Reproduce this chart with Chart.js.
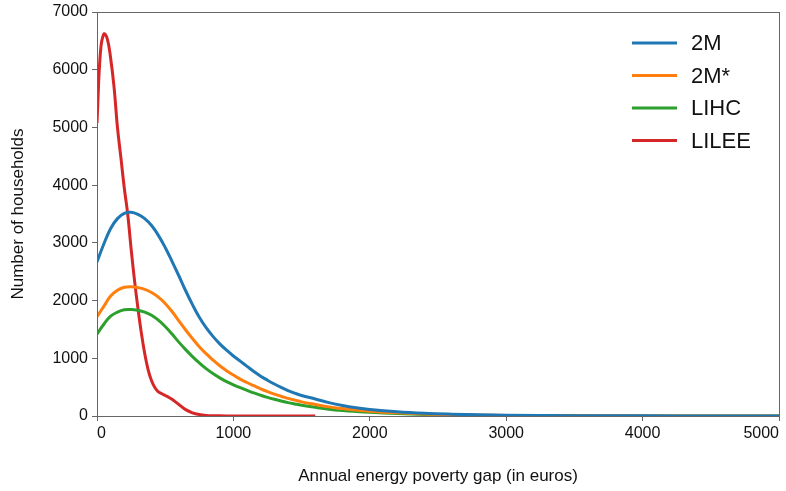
<!DOCTYPE html>
<html>
<head>
<meta charset="utf-8">
<script src="https://cdn.jsdelivr.net/npm/chart.js@4.4.1/dist/chart.umd.min.js"></script>
<style>
  html, body { margin: 0; padding: 0; background: #fff; }
  #wrap { width: 786px; height: 491px; }
</style>
</head>
<body>
<div id="wrap"><canvas id="gapChart" width="786" height="491"></canvas></div>
<script>
// x positions (euros) for the 2M, 2M*, LIHC curves
var gapEuros = [0, 50, 100, 150, 200, 250, 300, 350, 400, 450, 500, 550, 600, 650, 700, 750, 800, 850, 900, 950,
  1000, 1050, 1100, 1150, 1200, 1250, 1300, 1350, 1400, 1450, 1500,
  1600, 1700, 1800, 1900, 2000, 2200, 2400, 2600, 2800, 3000, 3500, 4000, 4500, 5000];
var twoM = [2670, 2980, 3250, 3420, 3510, 3530, 3495, 3420, 3300, 3130, 2920, 2680, 2430, 2170, 1930, 1710, 1530, 1380, 1250, 1140,
  1040, 950, 860, 770, 690, 620, 555, 495, 440, 395, 355,
  295, 232, 182, 143, 113, 73, 47, 31, 20, 13, 6, 3, 1, 0];
var twoMStar = [1720, 1900, 2080, 2180, 2230, 2240, 2225, 2195, 2140, 2060, 1950, 1810, 1650, 1490, 1340, 1200, 1080, 970, 870, 785,
  710, 640, 580, 525, 470, 422, 380, 343, 305, 275, 245,
  200, 158, 128, 104, 84, 55, 35, 22, 14, 9, 4, 2, 1, 0];
var lihc = [1420, 1590, 1730, 1800, 1840, 1845, 1830, 1800, 1745, 1660, 1550, 1420, 1280, 1150, 1030, 920, 820, 735, 660, 595,
  540, 490, 445, 400, 360, 323, 290, 260, 232, 208, 186,
  150, 118, 95, 78, 64, 42, 27, 17, 10, 6, 3, 1, 0, 0];

// LILEE curve has its own, finer x positions and stops at 1600
var lileeEuros = [0, 25, 50, 75, 100, 125, 150, 175, 200, 225, 250, 275, 300, 325, 350, 375, 400, 425, 450,
  475, 500, 525, 550, 575, 600, 650, 700, 750, 800, 850, 900, 1000, 1100, 1200, 1300, 1400, 1500, 1600];
var lilee = [5080, 6300, 6620, 6540, 6200, 5700, 5000, 4480, 3950, 3500, 2900, 2350, 1870, 1440, 1080, 800, 610, 490, 420,
  385, 355, 325, 290, 245, 200, 110, 55, 25, 10, 5, 3, 1, 0, 0, 0, 0, 0, 0];

var xTicks = [0, 1000, 2000, 3000, 4000, 5000];
var yTicks = [0, 1000, 2000, 3000, 4000, 5000, 6000, 7000];

function pts(xs, ys) {
  return xs.map(function (x, i) { return { x: x, y: ys[i] }; });
}

var axisColor = '#666';
var font = "'Liberation Sans', Arial, Helvetica, sans-serif";

function mkSet(label, data, color) {
  return {
    label: label,
    data: data,
    borderColor: color,
    backgroundColor: color,
    borderWidth: 3,
    pointRadius: 0,
    fill: false,
    tension: 0.4
  };
}

// legend drawn inside the plot, top right
var insideLegend = {
  id: 'insideLegend',
  afterDraw: function (chart) {
    var c = chart.ctx;
    var a = chart.chartArea;
    c.save();
    c.font = "22px " + font;
    c.textBaseline = 'middle';
    chart.data.datasets.forEach(function (ds, i) {
      var y = a.top + 31 + i * 32.5;
      c.strokeStyle = ds.borderColor;
      c.lineWidth = 3;
      c.beginPath();
      c.moveTo(a.right - 147, y);
      c.lineTo(a.right - 102, y);
      c.stroke();
      c.fillStyle = '#111';
      c.fillText(ds.label, a.right - 88, y + 1);
    });
    // frame around plot
    c.strokeStyle = axisColor;
    c.lineWidth = 1;
    c.strokeRect(a.left + 0.5, a.top + 0.5, a.right - a.left, a.bottom - a.top);
    c.restore();
  }
};

function plain(v) { return String(v); }

var ctx = document.getElementById('gapChart');
var gapChart = new Chart(ctx, {
  type: 'line',
  data: {
    datasets: [
      mkSet('2M', pts(gapEuros, twoM), '#1f77b4'),
      mkSet('2M*', pts(gapEuros, twoMStar), '#ff7f0e'),
      mkSet('LIHC', pts(gapEuros, lihc), '#2ca02c'),
      mkSet('LILEE', pts(lileeEuros, lilee), '#d62728')
    ]
  },
  options: {
    responsive: false,
    animation: false,
    layout: { padding: { top: 12, right: 7, left: 0, bottom: 0 } },
    scales: {
      x: {
        type: 'linear',
        min: 0,
        max: 5000,
        afterBuildTicks: function (s) { s.ticks = xTicks.map(function (v) { return { value: v }; }); },
        afterFit: function (s) { s.height = 75; s.paddingLeft = 0; s.paddingRight = 0; },
        grid: { display: true, drawOnChartArea: false, drawTicks: true, tickLength: 5, color: axisColor },
        border: { display: true, color: axisColor },
        ticks: { color: '#111', font: { size: 16, family: font }, padding: 3, maxRotation: 0,
          align: 'inner', callback: plain },
        title: { display: true, text: 'Annual energy poverty gap (in euros)', color: '#111',
          font: { size: 17, family: font }, padding: { top: 0, bottom: 4 } }
      },
      y: {
        min: 0,
        max: 7000,
        afterBuildTicks: function (s) { s.ticks = yTicks.map(function (v) { return { value: v }; }); },
        afterFit: function (s) { s.width = 97; s.paddingTop = 0; s.paddingBottom = 0; },
        grid: { display: true, drawOnChartArea: false, drawTicks: true, tickLength: 5, color: axisColor },
        border: { display: true, color: axisColor },
        ticks: { color: '#111', font: { size: 16, family: font }, padding: 4, callback: plain },
        title: { display: true, text: 'Number of households', color: '#111',
          font: { size: 17, family: font }, padding: { top: 8, bottom: 0 } }
      }
    },
    plugins: {
      legend: { display: false },
      tooltip: { enabled: false }
    }
  },
  plugins: [insideLegend]
});
</script>
</body>
</html>
